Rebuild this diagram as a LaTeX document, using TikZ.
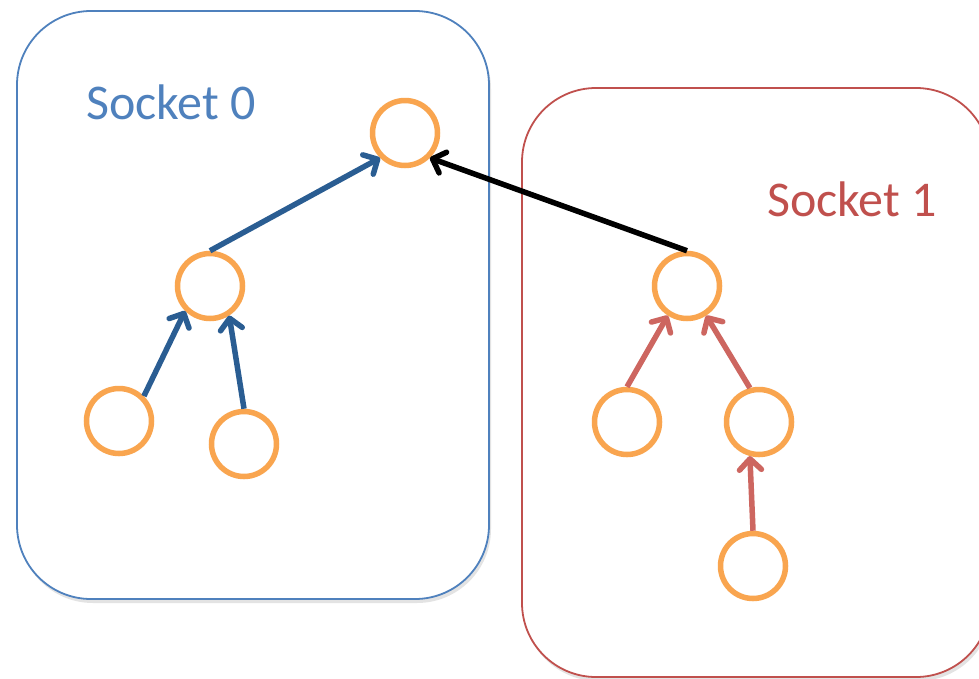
\documentclass[tikz,border=0pt]{standalone}
\usepackage{fontspec}
\setmainfont{Carlito}
\usetikzlibrary{arrows.meta,shadows}
\definecolor{boxblue}{HTML}{4F81BD}
\definecolor{boxred}{HTML}{C0504D}
\definecolor{arrblue}{HTML}{2A5D92}
\definecolor{arrred}{HTML}{CD6660}
\definecolor{nodeorange}{HTML}{F9A54F}
\tikzset{
  socket/.style={line width=1.8pt, rounded corners=74pt,
    drop shadow={shadow xshift=2pt, shadow yshift=-4pt, opacity=0.18, fill=black!60}},
  tnode/.style={circle, draw=nodeorange, line width=5.5pt, minimum size=65pt, inner sep=0pt, fill=none},
  link/.style={line width=5.5pt, -{Straight Barb[length=11pt,width=22pt,line cap=round,line join=round]}},
  lbl/.style={font=\fontsize{50}{54}\selectfont, anchor=base west, inner sep=0pt}
}
\begin{document}
\begin{tikzpicture}[x=1pt,y=-1pt]
\useasboundingbox (0,0) rectangle (979,678);
\clip (0,0) rectangle (979,678);
% boxes
\draw[socket, draw=boxblue, fill=white] (17,11) rectangle (489,599);
\draw[socket, draw=boxred, fill=white] (522,88) rectangle (990,677);
% labels
\node[lbl, text=boxblue] (l0) at (86,119) {Socket 0};
\node[lbl, text=boxred] (l1) at (767,216) {Socket 1};
% nodes
\node[tnode] (top) at (405,133) {};
\node[tnode] (lm) at (210,286) {};
\node[tnode] (lb1) at (119,421) {};
\node[tnode] (lb2) at (244,444) {};
\node[tnode] (rm) at (687,286) {};
\node[tnode] (rb1) at (627,422) {};
\node[tnode] (rb2) at (759,422) {};
\node[tnode] (rb3) at (753,566) {};
% connectors
\draw[link, draw=arrblue] (lm.north) -- (top.south west);
\draw[link, draw=arrblue] (lb1.north east) -- (lm.south west);
\draw[link, draw=arrblue] (lb2.north) -- (lm.-57);
\draw[link, draw=black] (rm.north) -- (top.south east);
\draw[link, draw=arrred] (rb1.north) -- (rm.237);
\draw[link, draw=arrred] (rb2.105) -- (rm.-57);
\draw[link, draw=arrred] (rb3.north) -- (rb2.255);
\end{tikzpicture}
\end{document}
